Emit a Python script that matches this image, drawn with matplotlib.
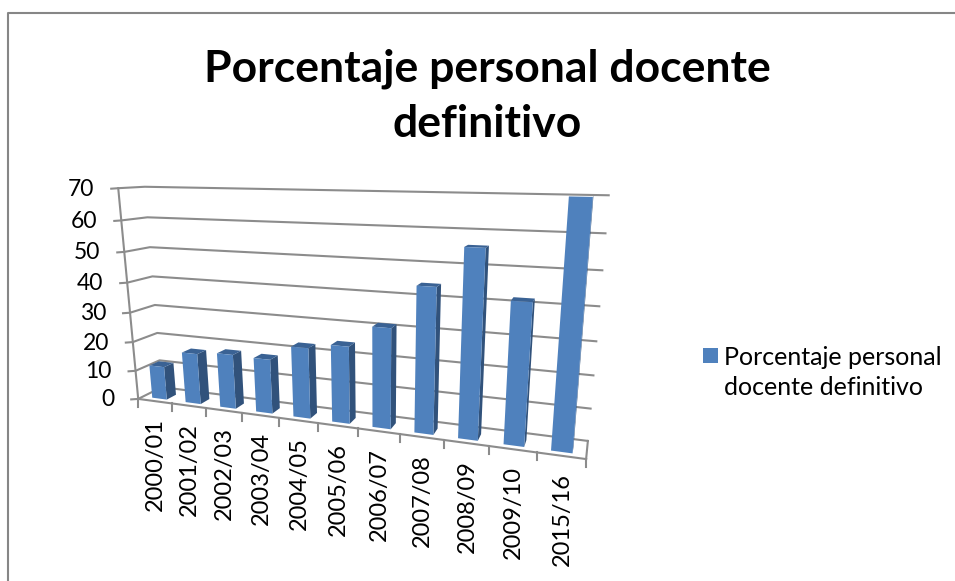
import numpy as np
import matplotlib
matplotlib.use('Agg')
import matplotlib.pyplot as plt
from matplotlib.patches import Polygon

plt.rcParams['font.family'] = ['Lato', 'DejaVu Sans']

categories = ['2000/01', '2001/02', '2002/03', '2003/04', '2004/05', '2005/06',
              '2006/07', '2007/08', '2008/09', '2009/10', '2015/16']
values = [11.5, 17.3, 18.3, 18, 23, 24.7, 31.5, 44.5, 56, 42, 70]
y_ticks = [0, 10, 20, 30, 40, 50, 60, 70]
series_name = 'Porcentaje personal\ndocente definitivo'
title = 'Porcentaje personal docente\ndefinitivo'

FRONT_COLOR = '#4F81BD'
SIDE_COLOR = '#31527B'
TOP_COLOR = '#3A6294'
GRID_COLOR = '#8C8C8C'
W, H = 955, 581

# corners of the 3D box (category, depth, value) -> pixel in the picture
box_3d = [(0, 0, 0), (0, 0, 70), (0, 1, 0), (0, 1, 70), (11, 1, 0), (11, 1, 70), (11, 0, 0), (11, 0, 70)]
box_px = [(138, 398), (118, 189), (162, 388), (145, 186), (588, 441), (608, 195), (586, 459), (609, 198)]


def fit_camera(src, dst):
    rows = []
    rhs = []
    for (x, y, z), (u, v) in zip(src, dst):
        rows.append([x, y, z, 1, 0, 0, 0, 0, -u * x, -u * y, -u * z])
        rows.append([0, 0, 0, 0, x, y, z, 1, -v * x, -v * y, -v * z])
        rhs += [u, v]
    p = np.linalg.lstsq(np.array(rows, float), np.array(rhs, float), rcond=None)[0]
    return np.append(p, 1).reshape(3, 4)


CAM = fit_camera(box_3d, box_px)


def project(x, y, z):
    p = CAM @ np.array([x, y, z, 1.0])
    return p[0] / p[2], p[1] / p[2]


fig = plt.figure(figsize=(W / 100, H / 100), dpi=100)
ax = fig.add_axes([0, 0, 1, 1])
ax.set_xlim(0, W)
ax.set_ylim(H, 0)
ax.axis('off')

# chart frame, the right side is cut off in the picture
ax.plot([7.7, 7.7, W], [H, 13, 13], color='#868686', lw=1.5)

n = len(categories)
for t in y_ticks:
    a = project(0, 0, t)
    b = project(0, 1, t)
    c = project(n, 1, t)
    ax.plot([a[0] - 7, a[0], b[0], c[0]], [a[1] + 0.5, a[1], b[1], c[1]],
            color=GRID_COLOR, lw=1.5, zorder=1)
    ax.text(a[0] - 24, a[1] + 1, str(t), ha='right', va='center', fontsize=16.5, color='black')

a = project(0, 0, 0)
b = project(0, 0, 70)
ax.plot([a[0], b[0]], [a[1], b[1]], color=GRID_COLOR, lw=1.5, zorder=1)
a = project(n, 0, 0)
b = project(n, 1, 0)
ax.plot([a[0], b[0]], [a[1], b[1]], color=GRID_COLOR, lw=1.5, zorder=1)
a = project(0, 0, 0)
b = project(n, 0, 0)
ax.plot([a[0], b[0]], [a[1], b[1]], color=GRID_COLOR, lw=1.5, zorder=1)
for i in range(n + 1):
    a = project(i, 0, 0)
    ax.plot([a[0], a[0]], [a[1], a[1] + 8], color=GRID_COLOR, lw=1.5, zorder=1)

# bars, left to right
bar_w = 0.22
d0, d1 = 0.2, 0.6
for i, v in enumerate(values):
    x0, x1 = i + 0.5 - bar_w, i + 0.5 + bar_w
    ax.add_patch(Polygon([project(x1, d0, 0), project(x1, d1, 0), project(x1, d1, v), project(x1, d0, v)],
                         closed=True, fc=SIDE_COLOR, ec='none', zorder=2))
    if v < 70:
        ax.add_patch(Polygon([project(x0, d0, v), project(x1, d0, v), project(x1, d1, v), project(x0, d1, v)],
                             closed=True, fc=TOP_COLOR, ec='none', zorder=2))
    ax.add_patch(Polygon([project(x0, d0, 0), project(x1, d0, 0), project(x1, d0, v), project(x0, d0, v)],
                         closed=True, fc=FRONT_COLOR, ec='none', zorder=3))
    m = project(i + 0.5, 0, 0)
    ax.text(m[0] + 1, m[1] + 17, categories[i], rotation=90, ha='center', va='top', fontsize=17, color='black')

ax.text(487, 96, title, ha='center', va='center', fontsize=32, fontweight='bold',
        color='black', linespacing=1.45)

# legend
ax.add_patch(Polygon([(703, 348), (718, 348), (718, 363), (703, 363)], closed=True, fc=FRONT_COLOR, ec='none'))
ax.text(724, 372.5, series_name, ha='left', va='center', fontsize=18, color='black', linespacing=1.42)

fig.savefig('out.png', dpi=100)
